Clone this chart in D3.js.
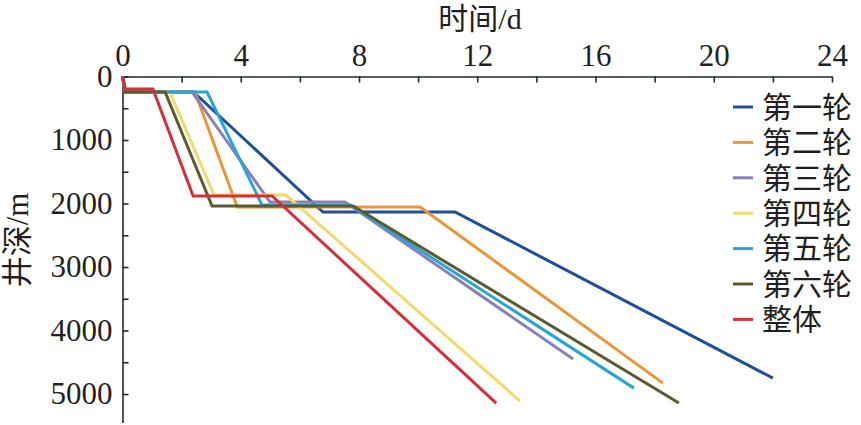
<!DOCTYPE html>
<html>
<head>
<meta charset="utf-8">
<script src="https://cdn.jsdelivr.net/npm/d3@7"></script>
<style>
  html, body { margin: 0; padding: 0; background: #fff; }
  svg text { font-family: "Liberation Serif", "Noto Sans CJK SC", serif; fill: #231f20; }
  .axis path, .axis line { stroke: #1f2b28; stroke-width: 1.6; }
</style>
</head>
<body>
<div id="chart"></div>
<script>
// 各轮次钻进曲线：[时间/d, 井深/m]
const names = ['第一轮', '第二轮', '第三轮', '第四轮', '第五轮', '第六轮', '整体'];
const colors = ['#1f4f96', '#eb9539', '#8a80b9', '#f0da6c', '#27a5d5', '#5d5a2e', '#d5303a'];

const round1 = [[0, 0], [0.1, 244], [2.4, 244], [6.78, 2134], [11.25, 2134], [22.0, 4749]];
const round2 = [[0, 0], [0.1, 244], [2.45, 244], [3.88, 2055], [10.07, 2055], [18.28, 4828]];
const round3 = [[0, 0], [0.1, 244], [2.35, 244], [4.99, 1977], [7.53, 1977], [15.24, 4449]];
const round4 = [[0, 0], [0.1, 244], [1.6, 244], [3.1, 1866], [5.53, 1866], [13.45, 5111]];
const round5 = [[0, 0], [0.1, 244], [2.86, 244], [4.72, 2024], [7.7, 2024], [17.3, 4907]];
const round6 = [[0, 0], [0.1, 244], [1.44, 244], [3.03, 2040], [7.8, 2040], [18.82, 5142]];
const overall = [[0, 0], [0.1, 197], [1.03, 197], [2.39, 1882], [5.06, 1882], [12.64, 5142]];

const seriesList = [round1, round2, round3, round4, round5, round6, overall];

const xTicksMajor = [0, 4, 8, 12, 16, 20, 24];
const xTicksMinor = [2, 6, 10, 14, 18, 22];
const yTicksMajor = [0, 1000, 2000, 3000, 4000, 5000];
const yTicksMinor = [500, 1500, 2500, 3500, 4500];

const width = 861, height = 425;

const svg = d3.select('#chart').append('svg')
  .attr('width', width)
  .attr('height', height);

const x = d3.scaleLinear().domain([0, 24]).range([122.5, 832]);
const y = d3.scaleLinear().domain([0, 5450]).range([76.5, 422.6]);

// 上方时间轴
const xAxisG = svg.append('g')
  .attr('class', 'axis')
  .attr('transform', `translate(0,${y(0)})`);
xAxisG.call(d3.axisTop(x).tickValues(xTicksMajor.concat(xTicksMinor))
  .tickFormat(d => xTicksMajor.includes(d) ? d : '')
  .tickSizeInner(-6).tickSizeOuter(0).tickPadding(11));
xAxisG.selectAll('text').style('font-size', '31px');

// 左侧井深轴
const yAxisG = svg.append('g')
  .attr('class', 'axis')
  .attr('transform', `translate(${x(0)},0)`);
yAxisG.call(d3.axisLeft(y).tickValues(yTicksMajor.concat(yTicksMinor))
  .tickFormat(d => yTicksMajor.includes(d) ? d : '')
  .tickSizeInner(-6).tickSizeOuter(0).tickPadding(10));
yAxisG.selectAll('text').style('font-size', '31px');

// 轴标题
svg.append('text')
  .attr('x', 480)
  .attr('y', 29)
  .attr('text-anchor', 'middle')
  .style('font-size', '30px')
  .text('时间/d');

svg.append('text')
  .attr('transform', 'translate(28,240) rotate(-90)')
  .attr('text-anchor', 'middle')
  .style('font-size', '31px')
  .text('井深/m');

// 曲线
const line = d3.line()
  .x(d => x(d[0]))
  .y(d => y(d[1]));

svg.selectAll('.curve')
  .data(seriesList)
  .enter()
  .append('path')
  .attr('class', 'curve')
  .attr('fill', 'none')
  .attr('stroke', (d, i) => colors[i])
  .attr('stroke-width', 3)
  .attr('stroke-linejoin', 'miter')
  .attr('d', line);

// 图例
const legend = svg.selectAll('.legend')
  .data(names)
  .enter()
  .append('g')
  .attr('class', 'legend')
  .attr('transform', (d, i) => `translate(733,${107 + i * 35.4})`);

legend.append('line')
  .attr('x1', 0)
  .attr('x2', 20)
  .attr('stroke', (d, i) => colors[i])
  .attr('stroke-width', 3);

legend.append('text')
  .attr('x', 29)
  .attr('dy', '0.36em')
  .style('font-size', '30px')
  .text(d => d);
</script>
</body>
</html>
